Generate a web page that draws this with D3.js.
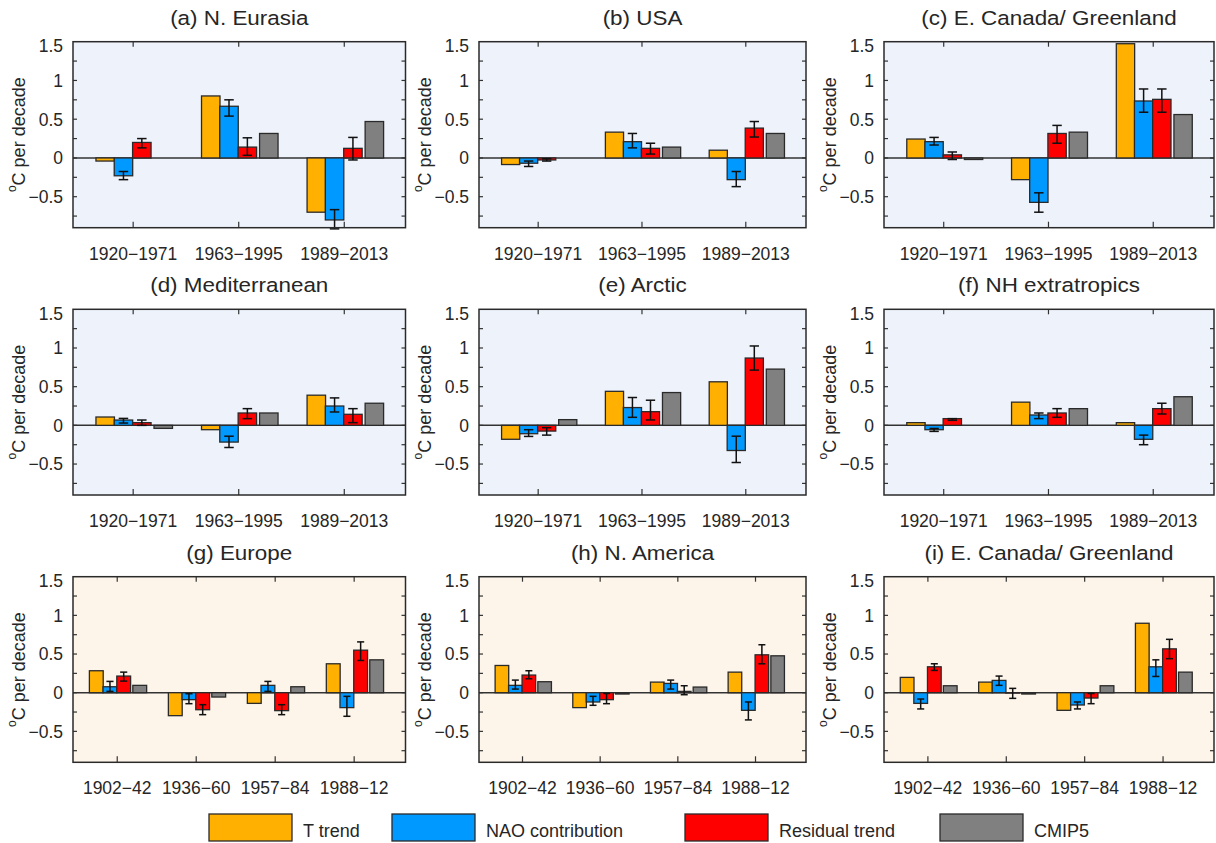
<!DOCTYPE html>
<html>
<head>
<meta charset="utf-8">
<script src="https://cdn.jsdelivr.net/npm/d3@7"></script>
<style>
  html, body { margin: 0; padding: 0; background: #ffffff; }
  svg { display: block; font-family: "Liberation Sans", Arial, Helvetica, sans-serif; }
</style>
</head>
<body>
<svg id="chart" width="1216" height="843"></svg>
<script>
// ---------------- DATA ----------------
const panelTitles = ["(a) N. Eurasia", "(b) USA", "(c) E. Canada/ Greenland",
                     "(d) Mediterranean", "(e) Arctic", "(f) NH extratropics",
                     "(g) Europe", "(h) N. America", "(i) E. Canada/ Greenland"];
const periodsTop = ["1920\u22121971", "1963\u22121995", "1989\u22122013"];
const periodsBottom = ["1902\u221242", "1936\u221260", "1957\u221284", "1988\u221212"];
const seriesNames = ["T trend", "NAO contribution", "Residual trend", "CMIP5"];
const seriesColors = ["#FFB000", "#0099FF", "#FF0000", "#808080"];
const yTickValues = [-0.5, 0, 0.5, 1, 1.5];
const yTickLabels = ["\u22120.5", "0", "0.5", "1", "1.5"];
const yMinorTicks = [-0.75, -0.5, -0.25, 0, 0.25, 0.5, 0.75, 1, 1.25];

// one row per panel (a..i), one value per period
const tTrend = [
  [-0.04, 0.80, -0.70],
  [-0.085, 0.333, 0.10],
  [0.244, -0.28, 1.474],
  [0.108, -0.056, 0.39],
  [-0.18, 0.44, 0.563],
  [0.035, 0.30, 0.035],
  [0.284, -0.297, -0.138, 0.374],
  [0.352, -0.193, 0.137, 0.266],
  [0.198, 0.137, -0.228, 0.898]
];
const naoContribution = [
  [-0.23, 0.667, -0.80],
  [-0.068, 0.21, -0.28],
  [0.21, -0.573, 0.735],
  [0.069, -0.216, 0.25],
  [-0.108, 0.23, -0.325],
  [-0.056, 0.134, -0.18],
  [0.077, -0.09, 0.095, -0.193],
  [0.095, -0.12, 0.12, -0.228],
  [-0.138, 0.159, -0.159, 0.335]
];
const naoRange = [
  [[-0.28, -0.175], [0.54, 0.75], [-0.915, -0.667]],
  [[-0.11, -0.04], [0.13, 0.316], [-0.37, -0.175]],
  [[0.167, 0.265], [-0.70, -0.45], [0.59, 0.89]],
  [[0.03, 0.09], [-0.286, -0.14], [0.173, 0.355]],
  [[-0.143, -0.056], [0.104, 0.36], [-0.48, -0.14]],
  [[-0.078, -0.04], [0.087, 0.16], [-0.25, -0.126]],
  [[0.017, 0.146], [-0.142, -0.013], [0.017, 0.146], [-0.305, -0.047]],
  [[0.047, 0.163], [-0.163, -0.047], [0.047, 0.163], [-0.352, -0.12]],
  [[-0.21, -0.082], [0.095, 0.215], [-0.21, -0.12], [0.21, 0.425]]
];
const residualTrend = [
  [0.20, 0.14, 0.124],
  [-0.026, 0.124, 0.385],
  [0.04, 0.316, 0.756],
  [0.035, 0.16, 0.143],
  [-0.074, 0.177, 0.87],
  [0.087, 0.16, 0.216],
  [0.215, -0.22, -0.232, 0.55],
  [0.228, -0.09, 0.017, 0.49],
  [0.335, -0.005, -0.069, 0.567]
];
const residualRange = [
  [[0.13, 0.25], [0.034, 0.26], [-0.026, 0.265]],
  [[-0.04, -0.01], [0.05, 0.19], [0.27, 0.47]],
  [[-0.02, 0.077], [0.19, 0.42], [0.59, 0.89]],
  [[0.0, 0.069], [0.087, 0.216], [0.035, 0.216]],
  [[-0.126, -0.03], [0.07, 0.325], [0.714, 1.026]],
  [[0.065, 0.087], [0.104, 0.216], [0.147, 0.286]],
  [[0.15, 0.266], [-0.284, -0.155], [-0.284, -0.155], [0.417, 0.657]],
  [[0.18, 0.284], [-0.142, -0.01], [-0.026, 0.09], [0.374, 0.62]],
  [[0.288, 0.374], [-0.073, 0.056], [-0.142, -0.01], [0.44, 0.69]]
];
const cmip5 = [
  [null, 0.316, 0.47],
  [null, 0.14, 0.316],
  [-0.02, 0.333, 0.56],
  [-0.039, 0.16, 0.286],
  [0.074, 0.424, 0.727],
  [null, 0.216, 0.37],
  [0.095, -0.056, 0.077, 0.425],
  [0.142, -0.017, 0.073, 0.477],
  [0.09, -0.017, 0.09, 0.266]
];

// ---------------- LAYOUT ----------------
const cols = [{l: 73, r: 405.5}, {l: 479, r: 806}, {l: 884, r: 1214}];
const rows = [{t: 41.7, b: 227.7}, {t: 309.3, b: 495}, {t: 576.7, b: 762.3}];
const barOffsets = [-0.265, -0.092, 0.082, 0.285];
const barWidth = 0.175;
const capWidth = 0.09;
const textColor = "#262626";

const svg = d3.select("#chart");

for (let p = 0; p < 9; p++) {
  const ri = Math.floor(p / 3), ci = p % 3;
  const bottomRow = ri === 2;
  const periods = bottomRow ? periodsBottom : periodsTop;
  const {l, r} = cols[ci];
  const {t, b} = rows[ri];

  const x = d3.scaleLinear()
    .domain(bottomRow ? [0.44, periods.length + 0.65] : [0.43, periods.length + 0.58])
    .range([l, r]);
  const y = d3.scaleLinear().domain([-0.9, 1.5]).range([b, t]);

  const g = svg.append("g");

  g.append("rect")
    .attr("x", l).attr("y", t).attr("width", r - l).attr("height", b - t)
    .attr("fill", bottomRow ? "#FDF5EA" : "#EEF3FB");

  // zero line
  g.append("line")
    .attr("x1", l).attr("x2", r).attr("y1", y(0)).attr("y2", y(0))
    .attr("stroke", "#333").attr("stroke-width", 1.5);

  // bars
  const seriesVals = [tTrend[p], naoContribution[p], residualTrend[p], cmip5[p]];
  const bars = [];
  seriesVals.forEach((vals, s) => {
    vals.forEach((v, k) => {
      if (v === null) return;
      bars.push({s, k, v});
    });
  });
  g.selectAll("rect.bar").data(bars).enter().append("rect")
    .attr("class", "bar")
    .attr("x", d => x(k1(d) + barOffsets[d.s] - barWidth / 2))
    .attr("width", d => x(k1(d) + barOffsets[d.s] + barWidth / 2) - x(k1(d) + barOffsets[d.s] - barWidth / 2))
    .attr("y", d => y(Math.max(0, d.v)))
    .attr("height", d => Math.abs(y(d.v) - y(0)))
    .attr("fill", d => seriesColors[d.s])
    .attr("stroke", "#2a2a2a").attr("stroke-width", 1.3);

  function k1(d) { return d.k + 1; }

  // error bars
  const errs = [];
  naoRange[p].forEach((rg, k) => errs.push({s: 1, k, lo: rg[0], hi: rg[1]}));
  residualRange[p].forEach((rg, k) => errs.push({s: 2, k, lo: rg[0], hi: rg[1]}));
  const eg = g.selectAll("g.err").data(errs).enter().append("g").attr("class", "err")
    .attr("stroke", "#111").attr("stroke-width", 1.5);
  eg.append("line")
    .attr("x1", d => x(d.k + 1 + barOffsets[d.s])).attr("x2", d => x(d.k + 1 + barOffsets[d.s]))
    .attr("y1", d => y(d.lo)).attr("y2", d => y(d.hi));
  eg.append("line")
    .attr("x1", d => x(d.k + 1 + barOffsets[d.s] - capWidth / 2))
    .attr("x2", d => x(d.k + 1 + barOffsets[d.s] + capWidth / 2))
    .attr("y1", d => y(d.lo)).attr("y2", d => y(d.lo));
  eg.append("line")
    .attr("x1", d => x(d.k + 1 + barOffsets[d.s] - capWidth / 2))
    .attr("x2", d => x(d.k + 1 + barOffsets[d.s] + capWidth / 2))
    .attr("y1", d => y(d.hi)).attr("y2", d => y(d.hi));

  // ticks (inward, both sides)
  const tickG = g.append("g").attr("stroke", "#333").attr("stroke-width", 1.2);
  yMinorTicks.forEach(v => {
    tickG.append("line").attr("x1", l).attr("x2", l + 4).attr("y1", y(v)).attr("y2", y(v));
    tickG.append("line").attr("x1", r - 4).attr("x2", r).attr("y1", y(v)).attr("y2", y(v));
  });
  periods.forEach((_, k) => {
    tickG.append("line").attr("x1", x(k + 1)).attr("x2", x(k + 1)).attr("y1", b).attr("y2", b - 6);
    tickG.append("line").attr("x1", x(k + 1)).attr("x2", x(k + 1)).attr("y1", t).attr("y2", t + 5);
  });

  // frame
  g.append("rect")
    .attr("x", l).attr("y", t).attr("width", r - l).attr("height", b - t)
    .attr("fill", "none").attr("stroke", "#2a2a2a").attr("stroke-width", 1.5);

  // y tick labels
  g.selectAll("text.ytl").data(yTickValues).enter().append("text")
    .attr("class", "ytl")
    .attr("x", l - 10)
    .attr("y", d => y(d) + (d === 1.5 ? 4 : 0))
    .attr("dy", "0.36em")
    .attr("text-anchor", "end")
    .attr("font-size", 17.5)
    .attr("fill", textColor)
    .text((d, i) => yTickLabels[i]);

  // x tick labels
  g.selectAll("text.xtl").data(periods).enter().append("text")
    .attr("class", "xtl")
    .attr("x", (d, k) => x(k + 1))
    .attr("y", b + 32)
    .attr("text-anchor", "middle")
    .attr("font-size", 17.5)
    .attr("fill", textColor)
    .text(d => d);

  // y axis label
  const yl = g.append("text")
    .attr("transform", `translate(${l - 53},${(t + b) / 2}) rotate(-90)`)
    .attr("text-anchor", "middle")
    .attr("dy", "0.35em")
    .attr("font-size", 18)
    .attr("fill", textColor);
  yl.append("tspan").attr("font-size", 12).attr("dy", "-0.3em").text("o");
  yl.append("tspan").attr("dy", "0.45em").text("C per decade");

  // title
  g.append("text")
    .attr("transform", `translate(${(l + r) / 2},${t - 17}) scale(1.15,1)`)
    .attr("text-anchor", "middle")
    .attr("font-size", 19.5)
    .attr("fill", textColor)
    .text(panelTitles[p]);
}

// ---------------- LEGEND ----------------
const legendBoxX = [209, 392, 685, 940];
const lg = svg.append("g");
seriesNames.forEach((name, s) => {
  lg.append("rect")
    .attr("x", legendBoxX[s]).attr("y", 814)
    .attr("width", 83).attr("height", 27)
    .attr("fill", seriesColors[s])
    .attr("stroke", "#2a2a2a").attr("stroke-width", 1.3);
  lg.append("text")
    .attr("x", legendBoxX[s] + 94).attr("y", 836.5)
    .attr("font-size", 18)
    .attr("fill", textColor)
    .text(name);
});
</script>
</body>
</html>
